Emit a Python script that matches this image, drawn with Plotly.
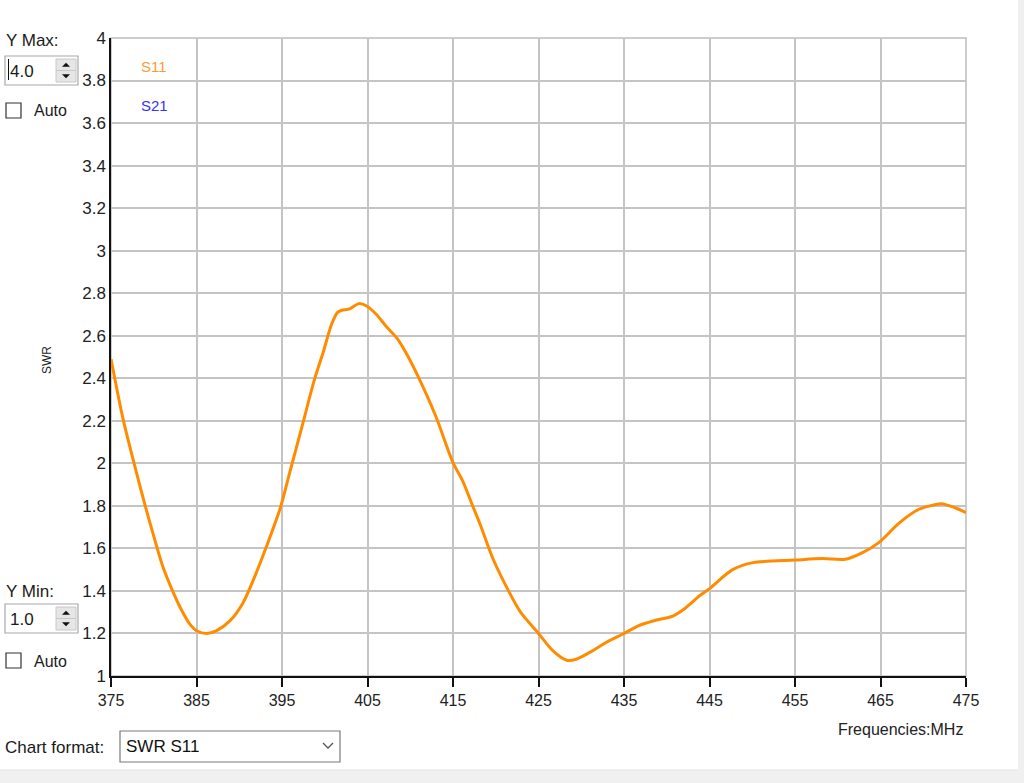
import plotly.graph_objects as go

# ---------------- data ----------------
freq_mhz = [375.0, 376.4, 377.7, 378.9, 380.3, 381.1, 382.1, 383.25, 384.2, 385.0,
            386.2, 387.3, 388.9, 390.45, 392.0, 393.2, 394.8, 395.9, 397.45, 398.8,
            399.8, 400.8, 401.5, 402.0, 402.9, 404.0, 404.9, 406.05, 407.2, 408.4,
            409.5, 410.9, 413.0, 415.0, 416.1, 417.3, 418.2, 419.7, 421.6, 422.9,
            423.6, 425.0, 426.7, 428.3, 429.4, 431.3, 433.0, 435.0, 436.6, 438.5,
            440.7, 442.2, 443.8, 445.0, 447.7, 450.1, 455.0, 458.2, 460.9, 462.9,
            464.8, 467.2, 469.5, 470.8, 472.1, 473.8, 475.0]
swr_s11 = [2.49, 2.21, 2.00, 1.815, 1.615, 1.51, 1.41, 1.31, 1.245, 1.213,
           1.20, 1.212, 1.259, 1.345, 1.486, 1.611, 1.79, 1.956, 2.19, 2.395,
           2.52, 2.654, 2.71, 2.72, 2.726, 2.751, 2.74, 2.70, 2.643, 2.591,
           2.52, 2.41, 2.22, 2.003, 1.92, 1.80, 1.71, 1.549, 1.392, 1.30,
           1.265, 1.20, 1.118, 1.074, 1.079, 1.118, 1.16, 1.20, 1.235, 1.26,
           1.282, 1.32, 1.376, 1.411, 1.50, 1.533, 1.545, 1.552, 1.549, 1.58,
           1.627, 1.72, 1.784, 1.80, 1.81, 1.79, 1.768]
x_ticks = [375, 385, 395, 405, 415, 425, 435, 445, 455, 465, 475]
y_ticks = [1, 1.2, 1.4, 1.6, 1.8, 2, 2.2, 2.4, 2.6, 2.8, 3, 3.2, 3.4, 3.6, 3.8, 4]
y_tick_text = ["1", "1.2", "1.4", "1.6", "1.8", "2", "2.2", "2.4", "2.6", "2.8",
               "3", "3.2", "3.4", "3.6", "3.8", "4"]
series_names = ["S11", "S21"]
series_colors = ["#FF8C00", "#2b2bff"]
label_colors = ["#ff9a33", "#3333ff"]
y_max_text = "4.0"
y_min_text = "1.0"
chart_format = "SWR S11"

# ---------------- layout geometry ----------------
W, H = 1024, 783
L, R, T, B = 111, 966, 38, 676
FONT = "Liberation Sans"


def px(x):
    return (x - L) / (R - L)


def py(y):
    return (B - y) / (B - T)


fig = go.Figure()
fig.add_trace(go.Scatter(
    x=freq_mhz, y=swr_s11, mode="lines", name=series_names[0],
    line=dict(color=series_colors[0], width=3, shape="spline", smoothing=0.8),
    showlegend=False, hoverinfo="x+y"))

shapes = []
annotations = []

# plot border (top / right) in gray
shapes.append(dict(type="rect", xref="paper", yref="paper", x0=0, x1=1, y0=0, y1=1,
                   line=dict(color="#bdbdbd", width=1.5), layer="below"))

# bottom and right window strips
shapes.append(dict(type="rect", xref="paper", yref="paper",
                   x0=px(-5), x1=px(W + 5), y0=py(H + 5), y1=py(770),
                   fillcolor="#f0f0f0", line=dict(color="#e2e2e2", width=1)))
shapes.append(dict(type="rect", xref="paper", yref="paper",
                   x0=px(1018), x1=px(W + 5), y0=py(H + 5), y1=py(-5),
                   fillcolor="#f0f0f0", line=dict(width=0)))


def text(x, y, s, size=16, color="#1a1a1a", xanchor="left", angle=0):
    annotations.append(dict(x=px(x), y=py(y), xref="paper", yref="paper", text=s,
                            showarrow=False, xanchor=xanchor, yanchor="middle",
                            textangle=angle,
                            font=dict(family=FONT, size=size, color=color)))


def spinbox(y0, y1, value):
    shapes.append(dict(type="rect", xref="paper", yref="paper",
                       x0=px(5), x1=px(78), y0=py(y1), y1=py(y0),
                       fillcolor="white", line=dict(color="#a8a8a8", width=1.2)))
    mid = (y0 + y1) / 2
    for (a, b) in [(y0 + 3, mid), (mid, y1 - 3)]:
        shapes.append(dict(type="rect", xref="paper", yref="paper",
                           x0=px(56), x1=px(76), y0=py(b), y1=py(a),
                           fillcolor="#e6e6e6", line=dict(color="#c8c8c8", width=1)))
    ua = (y0 + 3 + mid) / 2
    shapes.append(dict(type="path", xref="paper", yref="paper",
                       path=f"M {px(62)},{py(ua + 2)} L {px(70)},{py(ua + 2)} L {px(66)},{py(ua - 2)} Z",
                       fillcolor="#111", line=dict(width=0)))
    da = (mid + y1 - 3) / 2
    shapes.append(dict(type="path", xref="paper", yref="paper",
                       path=f"M {px(62)},{py(da - 2)} L {px(70)},{py(da - 2)} L {px(66)},{py(da + 2)} Z",
                       fillcolor="#111", line=dict(width=0)))
    text(8, mid + 1, value, size=17)


def checkbox(y0, y1):
    shapes.append(dict(type="rect", xref="paper", yref="paper",
                       x0=px(6), x1=px(21), y0=py(y1), y1=py(y0),
                       fillcolor="white", line=dict(color="#333", width=1.2)))


# Y Max controls
text(4, 40, "Y Max:", size=17)
spinbox(56, 85, y_max_text)
shapes.append(dict(type="line", xref="paper", yref="paper",
                   x0=px(8.5), x1=px(8.5), y0=py(80), y1=py(59),
                   line=dict(color="#111", width=1)))
checkbox(103, 118)
text(32, 111, "Auto", size=16)

# Y Min controls
text(4, 591, "Y Min:", size=17)
spinbox(604, 633, y_min_text)
checkbox(653, 668)
text(32, 661, "Auto", size=16)

# Chart format drop-down
text(3, 747, "Chart format:", size=17)
shapes.append(dict(type="rect", xref="paper", yref="paper",
                   x0=px(120), x1=px(340), y0=py(762), y1=py(731),
                   fillcolor="white", line=dict(color="#7a7a7a", width=1.2)))
text(124, 746, chart_format, size=17, color="#111")
shapes.append(dict(type="path", xref="paper", yref="paper",
                   path=f"M {px(323)},{py(743)} L {px(328)},{py(748)} L {px(333)},{py(743)}",
                   line=dict(color="#555", width=1.3)))

# series labels
text(139, 67, series_names[0], size=15, color=label_colors[0])
text(139, 105, series_names[1], size=15, color=label_colors[1])

# axis titles
text(47, 360, "SWR", size=12, color="#222", xanchor="center", angle=-90)
text(900, 729, "Frequencies:MHz", size=16, color="#222", xanchor="center")

fig.update_layout(
    width=W, height=H,
    margin=dict(l=L, r=W - R, t=T, b=H - B, pad=0),
    paper_bgcolor="white", plot_bgcolor="white",
    showlegend=False,
    shapes=shapes, annotations=annotations,
    xaxis=dict(range=[375, 475], tickvals=x_ticks, ticktext=[str(v) for v in x_ticks],
               showgrid=True, gridcolor="#c4c4c4", gridwidth=1.5,
               showline=True, linecolor="#111", linewidth=1.5,
               ticks="outside", ticklen=9, tickcolor="#111", tickwidth=1.5,
               tickfont=dict(family=FONT, size=16, color="#222"),
               zeroline=False, fixedrange=True),
    yaxis=dict(range=[1, 4], tickvals=y_ticks, ticktext=y_tick_text,
               showgrid=True, gridcolor="#c4c4c4", gridwidth=1.5,
               showline=True, linecolor="#111", linewidth=1.5,
               ticks="", tickfont=dict(family=FONT, size=17, color="#222"),
               zeroline=False, fixedrange=True),
)

fig.write_html(
    "out.html",
    config={"displayModeBar": False},
    post_script="document.body.style.margin='0';document.body.style.overflow='hidden';",
)
